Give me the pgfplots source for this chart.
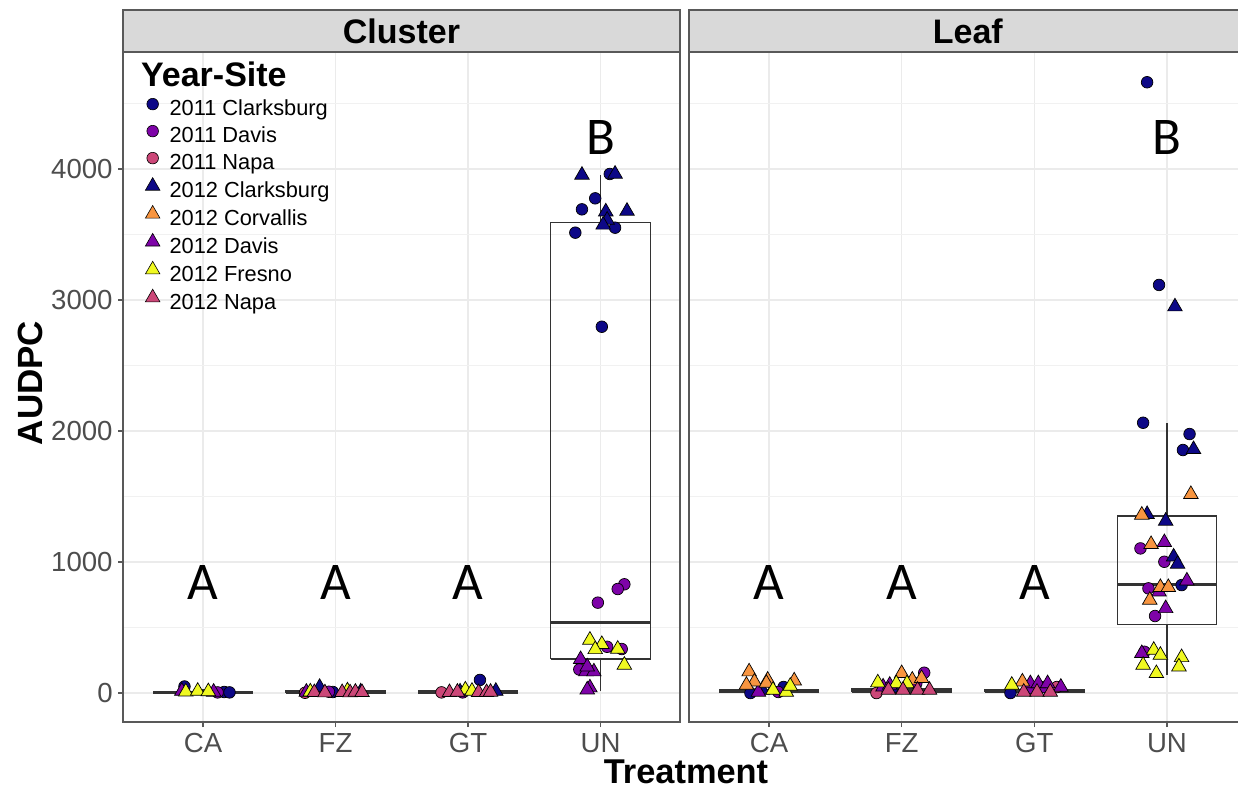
\documentclass[border=0pt]{standalone}
\usepackage{pgfplots}
\pgfplotsset{compat=1.18}
\usepackage{fontspec}
\setmainfont{Liberation Sans}
\newfontfamily\carlito{Carlito}
\definecolor{cnavy}{HTML}{0D0887}
\definecolor{cpurp}{HTML}{7E03A8}
\definecolor{cpink}{HTML}{CC4778}
\definecolor{corng}{HTML}{F89540}
\definecolor{cyell}{HTML}{F0F921}
\definecolor{gridc}{HTML}{EBEBEB}
\definecolor{bordc}{HTML}{595959}
\definecolor{boxc}{HTML}{333333}
\definecolor{tickc}{HTML}{4D4D4D}
\definecolor{stripc}{HTML}{D9D9D9}

% box: left, centre, right, lower whisker, lower quartile, median, upper quartile, upper whisker
\newcommand{\boxat}[8]{%
  \addplot[forget plot, draw=boxc, line width=0.6pt] coordinates {(#1,#5) (#3,#5) (#3,#7) (#1,#7) (#1,#5)};
  \addplot[forget plot, draw=boxc, line width=0.6pt] coordinates {(#2,#4) (#2,#5)};
  \addplot[forget plot, draw=boxc, line width=0.6pt] coordinates {(#2,#7) (#2,#8)};
  \addplot[forget plot, draw=boxc, line width=1.3pt] coordinates {(#1,#6) (#3,#6)};
}

\pgfplotsset{
  circ/.style={forget plot, only marks, mark=*, mark size=2.9pt, mark options={draw=black, fill=#1, line width=0.35pt}},
  tri/.style={forget plot, only marks, mark=triangle*, mark size=4.2pt, mark options={draw=black, fill=#1, line width=0.35pt}},
  lcirc/.style={only marks, mark=*, mark size=2.9pt, mark options={draw=black, fill=#1, line width=0.3pt}},
  ltri/.style={only marks, mark=triangle*, mark size=4.2pt, mark options={draw=black, fill=#1, line width=0.3pt}},
  panel/.style={
    scale only axis, height=335pt,
    ymin=-221, ymax=4893,
    xmax=4.6,
    xtick={1,2,3,4}, xticklabels={CA,FZ,GT,UN},
    ytick={0,1000,2000,3000,4000},
    minor ytick={500,1500,2500,3500,4500},
    grid=both,
    major grid style={gridc, line width=0.6pt},
    minor grid style={gridc!70, line width=0.35pt},
    axis line style={bordc, line width=0.65pt},
    tick align=outside, major tick length=2.5pt, minor tick length=0pt,
    tick style={bordc, line width=0.6pt},
    xtick pos=bottom, ytick pos=left,
    ticklabel style={font=\fontsize{13.8}{14}\selectfont, text=tickc},
    /pgf/number format/assume math mode=true,
    xticklabel style={inner sep=0pt, anchor=north, yshift=-3pt},
    yticklabel style={inner sep=0pt, anchor=east, xshift=-2.5pt},
    clip=false,
  },
}

\begin{document}
\begin{tikzpicture}
\useasboundingbox (0,0) rectangle (619pt,394pt);
% ---------------- Cluster panel
\begin{axis}[panel, at={(61.5pt,33pt)}, anchor=south west, width=278.5pt,
  xmin=0.396,
  yticklabels={0,1000,2000,3000,4000},
  legend image code/.code={\draw[#1] plot coordinates {(4pt,3pt)};},
  legend style={at={(rel axis cs:0.0395,0.934)}, anchor=north west, draw=none, fill=none,
    inner sep=0pt, row sep=0pt, column sep=4.8pt,
    font=\fontsize{10.9}{13.7}\selectfont,
    nodes={inner sep=0pt, text height=9.5pt, text depth=4.0pt}},
  legend cell align=left]
\boxat{0.625}{1}{1.375}{0}{0}{4}{14}{30}
\boxat{1.625}{2}{2.375}{0}{0}{5}{15}{40}
\boxat{2.625}{3}{3.375}{0}{0}{6}{18}{40}
\boxat{3.625}{4}{4.375}{15}{260}{540}{3590}{3955}
\addplot[circ=cnavy] coordinates {(0.86,50)(1.16,8)(1.20,5)(1.98,8)(3.09,100)(4.07,3962)(3.96,3776)(3.86,3692)(4.11,3552)(3.81,3514)(4.01,2796)};
\addplot[circ=cpurp] coordinates {(1.11,5)(1.95,10)(2.96,5)(4.18,830)(4.13,794)(3.98,690)(4.05,353)(4.16,336)(3.84,180)};
\addplot[circ=cpink] coordinates {(1.77,2)(2.80,5)};
\addplot[tri=cnavy] coordinates {(1.88,45)(2.19,10)(2.94,10)(3.21,15)(3.86,3954)(4.11,3962)(4.04,3674)(4.20,3679)(4.05,3611)(4.02,3573)};
\addplot[tri=cpurp] coordinates {(0.84,15)(1.08,8)(1.78,8)(3.85,257)(3.89,163)(3.95,163)(3.90,201)(3.92,41)(3.90,25)};
\addplot[tri=cyell] coordinates {(0.87,10)(0.96,15)(1.04,12)(1.81,10)(2.09,18)(2.98,25)(3.03,15)(3.92,405)(4.01,372)(3.96,333)(4.13,336)(4.18,214)};
\addplot[tri=cpink] coordinates {(1.84,5)(1.92,3)(2.05,5)(2.11,3)(2.15,8)(2.20,5)(2.86,5)(2.92,8)(3.08,5)(3.14,5)(3.17,8)};
\addlegendimage{lcirc=cnavy}
\addlegendentry{2011 Clarksburg}
\addlegendimage{lcirc=cpurp}
\addlegendentry{2011 Davis}
\addlegendimage{lcirc=cpink}
\addlegendentry{2011 Napa}
\addlegendimage{ltri=cnavy}
\addlegendentry{2012 Clarksburg}
\addlegendimage{ltri=corng}
\addlegendentry{2012 Corvallis}
\addlegendimage{ltri=cpurp}
\addlegendentry{2012 Davis}
\addlegendimage{ltri=cyell}
\addlegendentry{2012 Fresno}
\addlegendimage{ltri=cpink}
\addlegendentry{2012 Napa}
\draw[fill=stripc, draw=bordc, line width=0.65pt] (rel axis cs:0,1) rectangle ([yshift=21pt]rel axis cs:1,1);
\node[font=\bfseries\fontsize{17}{17}\selectfont] at ([yshift=10.5pt]rel axis cs:0.5,1) {Cluster};
\node[font=\carlito\fontsize{26.5}{26.5}\selectfont] at (axis cs:1,844) {A};
\node[font=\carlito\fontsize{26.5}{26.5}\selectfont] at (axis cs:2,844) {A};
\node[font=\carlito\fontsize{26.5}{26.5}\selectfont] at (axis cs:3,844) {A};
\node[font=\carlito\fontsize{26.5}{26.5}\selectfont] at (axis cs:4,4244) {B};
\end{axis}
% ---------------- Leaf panel
\begin{axis}[panel, at={(344.5pt,33pt)}, anchor=south west, width=278.8pt,
  xmin=0.397,
  yticklabels={}, ytick style={draw=none}]
\boxat{0.625}{1}{1.375}{0}{6}{18}{30}{60}
\boxat{1.625}{2}{2.375}{0}{6}{20}{35}{70}
\boxat{2.625}{3}{3.375}{0}{5}{16}{28}{60}
\boxat{3.625}{4}{4.375}{137}{524}{830}{1351}{2061}
\addplot[circ=cnavy] coordinates {(0.86,0)(1.11,46)(1.93,38)(2.82,0)(3.85,4662)(3.94,3115)(3.82,2063)(4.17,1977)(4.12,1855)(4.11,824)};
\addplot[circ=cpurp] coordinates {(1.07,8)(2.11,73)(2.17,155)(2.97,38)(3.07,46)(3.80,1104)(3.98,1002)(3.86,799)(3.91,588)(3.83,315)};
\addplot[circ=cpink] coordinates {(1.81,0)(3.17,46)};
\addplot[tri=cnavy] coordinates {(0.95,23)(4.06,2949)(4.20,1860)(3.85,1364)(3.99,1313)(4.05,1040)(4.08,985)};
\addplot[tri=cpurp] coordinates {(0.92,8)(1.86,48)(1.91,61)(2.97,73)(3.03,73)(3.10,73)(3.20,46)(3.98,1150)(4.15,857)(3.94,773)(3.99,646)(3.81,303)};
\addplot[tri=corng] coordinates {(0.85,163)(0.89,86)(0.99,100)(1.19,94)(0.83,61)(0.98,76)(2.00,150)(2.08,100)(2.15,112)(2.91,86)(4.18,1517)(3.81,1359)(3.88,1135)(3.95,807)(4.01,807)(3.87,710)};
\addplot[tri=cyell] coordinates {(1.03,23)(1.13,8)(1.16,53)(1.82,79)(1.96,73)(2.04,73)(2.83,61)(3.90,328)(3.95,290)(4.11,272)(4.09,201)(3.82,214)(3.92,150)};
\addplot[tri=cpink] coordinates {(1.90,23)(2.01,23)(2.12,23)(2.21,23)(2.92,8)(3.02,8)(3.12,8)};
\draw[fill=stripc, draw=bordc, line width=0.65pt] (rel axis cs:0,1) rectangle ([yshift=21pt]rel axis cs:1,1);
\node[font=\bfseries\fontsize{17}{17}\selectfont] at ([yshift=10.5pt]rel axis cs:0.5,1) {Leaf};
\node[font=\carlito\fontsize{26.5}{26.5}\selectfont] at (axis cs:1,844) {A};
\node[font=\carlito\fontsize{26.5}{26.5}\selectfont] at (axis cs:2,844) {A};
\node[font=\carlito\fontsize{26.5}{26.5}\selectfont] at (axis cs:3,844) {A};
\node[font=\carlito\fontsize{26.5}{26.5}\selectfont] at (axis cs:4,4244) {B};
\end{axis}
\node[rotate=90, inner sep=0pt, font=\bfseries\fontsize{17.5}{17.5}\selectfont] at (15pt,202.5pt) {AUDPC};
\node[anchor=base, inner sep=0pt, font=\bfseries\fontsize{17.2}{17.2}\selectfont] at (343pt,2.2pt) {Treatment};
\node[anchor=base west, inner sep=0pt, font=\bfseries\fontsize{17}{17}\selectfont] at (70.35pt,350.65pt) {Year-Site};
\end{tikzpicture}
\end{document}
